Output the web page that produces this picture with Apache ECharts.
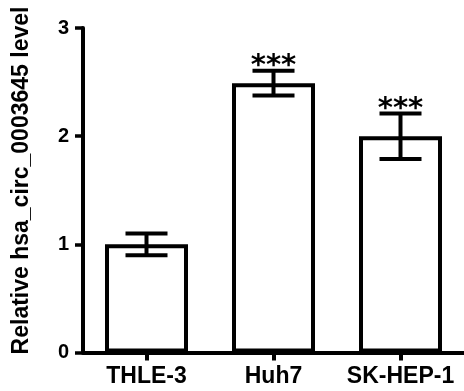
<!DOCTYPE html>
<html>
<head>
<meta charset="utf-8">
<script src="https://cdn.jsdelivr.net/npm/echarts@6/dist/echarts.min.js"></script>
<style>html,body{margin:0;padding:0;background:#fff}#c{width:464px;height:391px}</style>
</head>
<body>
<div id="c"></div>
<script>
var categories = ['THLE-3', 'Huh7', 'SK-HEP-1'];
var means = [1.0, 2.49, 2.0];
var sds = [0.1, 0.115, 0.21];
var marks = ['', '***', '***'];
var yTicks = [0, 1, 2, 3];
var yTitle = 'Relative hsa_circ_0003645 level';

var FONT = '"Liberation Sans", Arial, sans-serif';
var chart = echarts.init(document.getElementById('c'), null, {renderer: 'canvas'});

var errData = categories.map(function (c, i) { return [i, means[i], sds[i], marks[i]]; });

chart.setOption({
  animation: false,
  backgroundColor: '#fff',
  grid: {left: 83, right: -1, top: 28, bottom: 38.5, containLabel: false},
  xAxis: {
    type: 'category',
    data: categories,
    axisLine: {lineStyle: {color: '#000', width: 4}},
    axisTick: {show: true, alignWithLabel: true, interval: 0, length: 8, lineStyle: {color: '#000', width: 4}},
    axisLabel: {color: '#000', fontFamily: FONT, fontWeight: 'bold', fontSize: 23, margin: 13, interval: 0, hideOverlap: false}
  },
  yAxis: {
    type: 'value',
    min: yTicks[0],
    max: yTicks[yTicks.length - 1],
    interval: 1,
    splitLine: {show: false},
    axisLine: {show: true, lineStyle: {color: '#000', width: 4}},
    axisTick: {show: true, length: 8, lineStyle: {color: '#000', width: 3.5}},
    axisLabel: {color: '#000', fontFamily: FONT, fontWeight: 'bold', fontSize: 20, margin: 14}
  },
  graphic: [{
    type: 'text',
    x: 22, y: 180.5,
    rotation: Math.PI / 2,
    style: {
      text: yTitle,
      fill: '#000',
      font: 'bold 23px ' + FONT,
      align: 'center',
      verticalAlign: 'middle'
    }
  }],
  series: [{
    type: 'bar',
    data: means,
    barWidth: 83,
    itemStyle: {color: '#fff', borderColor: '#000', borderWidth: 4},
    z: 2
  }, {
    type: 'custom',
    data: errData,
    z: 3,
    renderItem: function (params, api) {
      var i = api.value(0), m = api.value(1), s = api.value(2);
      var top = api.coord([i, m + s]);
      var bot = api.coord([i, m - s]);
      var half = 21;
      var st = {stroke: '#000', lineWidth: 4};
      var children = [
        {type: 'line', shape: {x1: top[0], y1: top[1], x2: bot[0], y2: bot[1]}, style: st},
        {type: 'line', shape: {x1: top[0] - half, y1: top[1], x2: top[0] + half, y2: top[1]}, style: st},
        {type: 'line', shape: {x1: bot[0] - half, y1: bot[1], x2: bot[0] + half, y2: bot[1]}, style: st}
      ];
      var mk = marks[params.dataIndex];
      if (mk) {
        children.push({
          type: 'text', x: top[0], y: top[1] - 4,
          style: {text: mk, fill: '#000', font: 'bold 29px "DejaVu Sans", sans-serif', align: 'center', verticalAlign: 'middle'}
        });
      }
      return {type: 'group', children: children};
    }
  }]
});
</script>
</body>
</html>
